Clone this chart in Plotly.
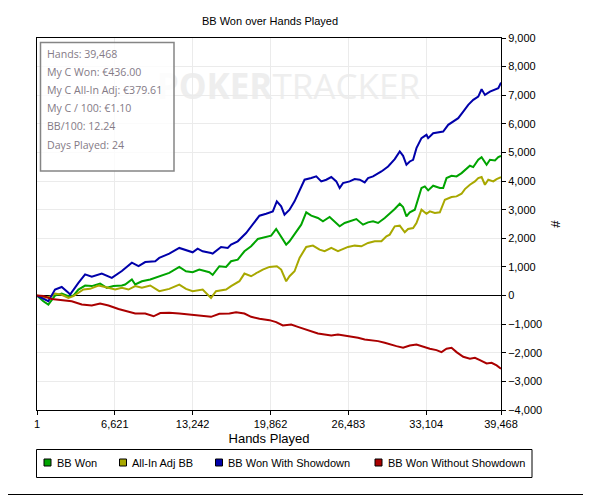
import plotly.graph_objects as go

# hands played (x) and BB values (y)
won_hands = [1, 540, 966, 1250, 1534, 2103, 2671, 3097, 3523, 4092, 4660, 5370, 5939, 6507, 7217, 7501,
             8070, 8354, 8922, 9632, 10399, 11252, 12104, 12672, 13240, 13808, 14661, 14945, 15513, 16082,
             16508, 17076, 17644, 18213, 18781, 19491, 19917, 20344, 20770, 21196, 21481, 21907, 22475,
             22901, 23328, 23896, 24322, 24891, 25317, 25743, 26170, 26738, 27164, 27733, 28159, 28585,
             29012, 29580, 30004, 30430, 30857, 31141, 31425, 31709, 32135, 32419, 32704, 32988, 33272,
             33698, 34266, 34550, 34835, 35261, 35687, 36113, 36397, 36823, 37108, 37534, 37818, 38244,
             38528, 38955, 39239, 39468]
won_bb = [0, -200, -315, -140, 0, 70, -20, 0, 210, 350, 330, 420, 270, 330, 350, 385,
          560, 385, 500, 560, 674, 791, 1000, 849, 814, 907, 814, 721, 1023, 1000,
          1198, 1256, 1547, 1721, 1977, 2047, 2093, 2326, 2070, 1779, 1895, 2128, 2477,
          2907, 2791, 2709, 2593, 2744, 2593, 2419, 2535, 2628, 2674, 2477, 2558, 2593,
          2535, 2709, 2860, 3023, 3209, 3093, 2767, 2907, 3000, 3407, 3756, 3814, 3674,
          3837, 3756, 3756, 4105, 4186, 4163, 4279, 4395, 4535, 4488, 4744, 4837, 4570,
          4744, 4721, 4837, 4884]

adj_hands = [1, 682, 1250, 1534, 2103, 2671, 3097, 3523, 3949, 4518, 5228, 5796, 6649, 7217, 7785, 8354,
             8922, 9632, 10399, 11252, 12104, 12672, 13240, 14093, 14803, 15229, 16082, 16508, 17218,
             17644, 18213, 18781, 19207, 19775, 20400, 20770, 21196, 21481, 21907, 22333, 22901, 23470,
             24038, 24464, 25033, 25601, 25885, 26454, 27022, 27591, 28159, 28728, 29296, 29722, 30004,
             30430, 30857, 31283, 31567, 31993, 32277, 32704, 33130, 33414, 33840, 34266, 34692, 35261,
             35687, 36113, 36397, 36823, 37250, 37534, 37818, 38102, 38386, 38812, 39096, 39468]
adj_bb = [0, -80, -20, 70, 25, -80, -20, 95, 210, 235, 350, 300, 210, 270, 210, 330,
          270, 350, 151, 233, 384, 233, 151, 209, -81, 151, 209, 326, 500,
          767, 674, 814, 907, 1000, 1023, 907, 500, 674, 849, 1314, 1698, 1744,
          1605, 1547, 1663, 1547, 1605, 1698, 1744, 1721, 1837, 1895, 1895, 2070, 2128,
          2419, 2442, 2209, 2326, 2360, 2535, 3000, 2860, 2942, 2884, 2907, 3349, 3442,
          3465, 3558, 3721, 3872, 3988, 4105, 4140, 3872, 4047, 3988, 4070, 4140]

sd_hands = [1, 966, 1534, 2103, 2671, 2813, 3523, 4092, 4660, 5512, 6365, 7217, 8070, 8638, 9206, 10058,
            10399, 11252, 12104, 12672, 13240, 13666, 14093, 14803, 14945, 15655, 16224, 16508, 17076,
            17787, 18213, 18923, 19491, 20059, 20400, 20770, 21054, 21481, 21907, 22333, 22759, 23328,
            23754, 24180, 24606, 25033, 25459, 25743, 26027, 26596, 27022, 27449, 27875, 28159, 28585,
            29296, 29864, 30430, 30857, 31141, 31425, 31709, 31993, 32277, 32704, 33130, 33272, 33698,
            34266, 34550, 34977, 35403, 35829, 36255, 36681, 37108, 37534, 37818, 38102, 38528, 38955,
            39239, 39468]
sd_bb = [0, -200, 210, 300, 100, 35, 440, 740, 655, 770, 620, 855, 1150, 1030, 1170, 1200,
         1314, 1465, 1663, 1581, 1512, 1640, 1547, 1488, 1465, 1698, 1663, 1779, 1895,
         2186, 2419, 2791, 2860, 2942, 3291, 3116, 2826, 3000, 3291, 3640, 4047, 4105,
         4163, 3988, 4047, 4140, 3988, 3756, 3930, 3988, 4070, 4047, 3953, 4105, 4163,
         4337, 4512, 4767, 5035, 4884, 4570, 4686, 4744, 5151, 5500, 5616, 5500, 5674,
         5698, 5733, 5965, 6081, 6198, 6430, 6663, 6837, 6953, 7209, 7012, 7128, 7186,
         7244, 7442]

nosd_hands = [1, 540, 1250, 2103, 2955, 3807, 4660, 5370, 6081, 6933, 7785, 8354, 9206, 9916, 10485,
              11252, 12104, 13240, 14093, 14803, 15513, 16366, 16934, 17644, 18213, 18923, 19775, 20344,
              20912, 21623, 22191, 22759, 23328, 23896, 24464, 25033, 25601, 26170, 26738, 27306, 27875,
              28443, 29012, 29580, 30004, 30573, 31141, 31709, 32277, 32846, 33414, 33982, 34408, 34835,
              35261, 35687, 36255, 36823, 37250, 37676, 38244, 38670, 39096, 39468]
nosd_bb = [0, -20, -120, -165, -200, -315, -350, -280, -350, -470, -550, -630, -630, -725, -610,
           -605, -628, -686, -721, -744, -640, -628, -581, -628, -744, -814, -860, -930,
           -1047, -1012, -1093, -1163, -1244, -1326, -1360, -1395, -1360, -1395, -1419, -1477, -1535,
           -1558, -1593, -1651, -1709, -1767, -1826, -1744, -1709, -1791, -1860, -1907, -1977, -1860,
           -1826, -1977, -2140, -2209, -2174, -2256, -2372, -2349, -2442, -2558]

x_ticks = [1, 6621, 13242, 19862, 26483, 33104, 39468]
stats = ["Hands: 39,468", "My C Won: €436.00", "My C All-In Adj: €379.61",
         "My C / 100: €1.10", "BB/100: 12.24", "Days Played: 24"]

W, H = 591, 495
OFF = 8  # page offset of the plot div (body margin)
# plot area in page pixels
L, R, T, B = 37, 501, 38, 410
PW, PH = R - L, B - T


def px_x(px):
    return (px - L) / PW


def px_y(py):
    return (B - py) / PH


FONT = "Liberation Sans"

series = [
    ("BB Won", won_hands, won_bb, "#00a400"),
    ("All-In Adj BB", adj_hands, adj_bb, "#a8a800"),
    ("BB Won With Showdown", sd_hands, sd_bb, "#0000aa"),
    ("BB Won Without Showdown", nosd_hands, nosd_bb, "#aa0000"),
]

fig = go.Figure()
for name, xs, ys, col in series:
    fig.add_trace(go.Scatter(x=xs, y=ys, mode="lines", name=name, showlegend=False,
                             line=dict(color=col, width=2)))

shapes = [
    # watermark, right end fixed at the "R"
    dict(type="rect", xref="paper", yref="paper", x0=px_x(100), x1=px_x(423), y0=px_y(106), y1=px_y(69),
         line=dict(width=0), layer="between",
         label=dict(text="<b>POKER</b>TRACKER", font=dict(size=35, color="#eeeeee", family="Open Sans"),
                    textposition="middle right", padding=0)),
    # stats box
    dict(type="rect", xref="paper", yref="paper", x0=px_x(40.5), x1=px_x(174), y0=px_y(171), y1=px_y(42.5),
         line=dict(color="#858585", width=1.5), fillcolor="rgba(255,255,255,0.8)", layer="above"),
    # outer frame
    dict(type="rect", xref="paper", yref="paper", x0=px_x(0.5), x1=px_x(590.5), y0=px_y(494.5), y1=px_y(0.5),
         line=dict(color="black", width=1), layer="above"),
    # legend box
    dict(type="rect", xref="paper", yref="paper", x0=px_x(36.5), x1=px_x(532), y0=px_y(477.5), y1=px_y(449.5),
         line=dict(color="black", width=1), fillcolor="white", layer="above"),
]

annotations = []
for i, s in enumerate(stats):
    annotations.append(dict(text=s, xref="paper", yref="paper", x=px_x(45), y=px_y(54 + 18.1 * i),
                            xanchor="left", yanchor="middle", showarrow=False,
                            font=dict(family="Open Sans", size=10.6, color="#847a86")))

# hand-drawn legend with square keys
key_x = [47.5, 123, 219, 378.5]
for (name, xs, ys, col), kx in zip(series, key_x):
    shapes.append(dict(type="rect", xref="paper", yref="paper", x0=px_x(kx - 3.5), x1=px_x(kx + 3.5),
                       y0=px_y(466), y1=px_y(459), fillcolor=col, line=dict(color="black", width=1),
                       layer="above"))
    annotations.append(dict(text=name, xref="paper", yref="paper", x=px_x(kx + 7), y=px_y(462.5),
                            xanchor="left", yanchor="middle", showarrow=False,
                            font=dict(family=FONT, size=11, color="black")))

fig.update_layout(
    width=W, height=H,
    margin=dict(l=L - OFF, r=W - R + OFF, t=T - OFF, b=H - B + OFF),
    paper_bgcolor="white", plot_bgcolor="white",
    font=dict(family=FONT, size=11, color="black"),
    title=dict(text="BB Won over Hands Played", x=px_x(270), xref="paper", xanchor="center",
               y=1 - (21 - OFF) / H, yref="container", yanchor="middle", font=dict(size=11)),
    shapes=shapes,
    annotations=annotations,
    showlegend=False,
)

fig.update_xaxes(range=[1, 39468], tickvals=x_ticks, ticktext=[f"{v:,}" for v in x_ticks],
                 showgrid=True, gridcolor="#ebebeb", zeroline=False, automargin=False,
                 showline=True, linecolor="black", mirror=True, ticks="outside", ticklen=4,
                 tickcolor="black", title=dict(text="Hands Played", standoff=4))
fig.update_yaxes(range=[-4000, 9000], dtick=1000, tickformat=",", side="right",
                 showgrid=True, gridcolor="#ebebeb", zeroline=True, zerolinecolor="black",
                 zerolinewidth=1, showline=True, linecolor="black", mirror=True, automargin=False,
                 ticks="outside", ticklen=4, tickcolor="black",
                 title=dict(text="#", standoff=9))

fig.write_html("out.html")
